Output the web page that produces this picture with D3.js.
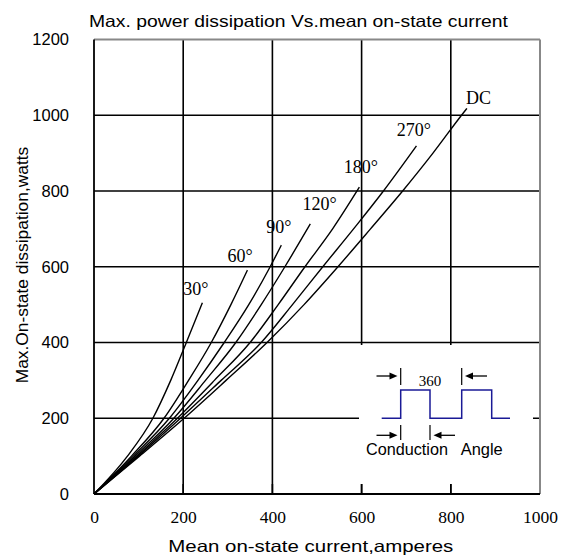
<!DOCTYPE html>
<html><head><meta charset="utf-8">
<script src="https://cdn.jsdelivr.net/npm/d3@7"></script>
<style>body{margin:0;background:#fff}svg{display:block}
.xt text{font-family:'Liberation Serif','Times New Roman',serif !important;font-size:17.5px}
</style>
</head><body>
<svg id="c" width="563" height="558"></svg>
<script>
// ---- data ----
const xTicks = [0, 200, 400, 600, 800, 1000];
const yTicks = [0, 200, 400, 600, 800, 1000, 1200];
const seriesNames = ["30°", "60°", "90°", "120°", "180°", "270°", "DC"];
// [mean current (A), power (W)]
const s30  = [[0,0],[75,100],[132,200],[172,300],[207,400],[243,505]];
const s60  = [[0,0],[84,100],[157,200],[212,300],[263,400],[307,500],[344,591]];
const s90  = [[0,0],[88,100],[169,200],[233,300],[292,400],[347,500],[395,600],[420,657]];
const s120 = [[0,0],[92,100],[179,200],[250,300],[318,400],[375,500],[428,600],[485,713]];
const s180 = [[0,0],[96,100],[187,200],[270,300],[350,400],[413,500],[473,600],[535,700],[595,810]];
const s270 = [[0,0],[99,100],[194,200],[285,300],[375,400],[445,500],[513,600],[582,700],[649,800],[723,919]];
const sDC  = [[0,0],[102,100],[202,200],[296,300],[388,400],[471,500],[547,600],[620,700],[692,800],[760,900],[824,1000],[836,1018]];
const allSeries = [s30, s60, s90, s120, s180, s270, sDC];
const titleText = "Max. power dissipation Vs.mean on-state current";
const xLabel = "Mean on-state current,amperes";
const yLabel = "Max.On-state dissipation,watts";

// ---- layout ----
const svg = d3.select("#c");
const L = 94, R = 540, T = 39.5, B = 494;
const x = d3.scaleLinear().domain([0, 1000]).range([L, R]);
const y = d3.scaleLinear().domain([0, 1200]).range([B, T]);
const sans = "'Liberation Sans', Arial, sans-serif";
const serif = "'Liberation Serif', 'Times New Roman', serif";
// label offsets from curve end (px)
const labelOff = [[-6.5,-7.7],[-7.3,-8.6],[-2.5,-12],[9.4,-14],[1.5,-14],[-2.5,-9.7],[11.6,-4.3]];

// grid
const g = svg.append("g");
g.selectAll("line.v").data(xTicks.filter(d => d > 0 && d < 1000)).enter().append("line")
  .attr("x1", d => x(d)).attr("x2", d => x(d)).attr("y1", T).attr("y2", B)
  .attr("stroke", "#000").attr("stroke-width", 1.6);
g.selectAll("line.h").data(yTicks.filter(d => d > 0 && d < 1200)).enter().append("line")
  .attr("x1", L).attr("x2", R).attr("y1", d => y(d)).attr("y2", d => y(d))
  .attr("stroke", "#000").attr("stroke-width", 1.6);

// curves
const line = d3.line().x(d => x(d[0])).y(d => y(d[1])).curve(d3.curveMonotoneX);
svg.append("g").selectAll("path").data(allSeries).enter().append("path")
  .attr("d", line).attr("fill", "none").attr("stroke", "#000").attr("stroke-width", 1.4);

// curve labels
svg.append("g").selectAll("text").data(allSeries).enter().append("text")
  .attr("x", (d, i) => x(d[d.length-1][0]) + labelOff[i][0])
  .attr("y", (d, i) => y(d[d.length-1][1]) + labelOff[i][1])
  .attr("text-anchor", "middle").style("font-family", serif).style("font-size", "18px")
  .text((d, i) => seriesNames[i]);

// inset (white box hides grid)
const ins = svg.append("g");
ins.append("rect").attr("x", 359).attr("y", 345).attr("width", 174).attr("height", 139).attr("fill", "#fff");
const wave = [[381.7,418.3],[400.7,418.3],[400.7,390],[430,390],[430,418.3],[461.7,418.3],[461.7,390],[491.7,390],[491.7,418.3],[510,418.3]];
ins.append("path").attr("d", d3.line()(wave)).attr("fill","none").attr("stroke","#1a1a96").attr("stroke-width",1.5);
[[400.7,368,385],[461.7,368,385],[400.7,425,440],[430,425,440]].forEach(v=>{
  ins.append("line").attr("x1",v[0]).attr("x2",v[0]).attr("y1",v[1]).attr("y2",v[2]).attr("stroke","#000").attr("stroke-width",1.2);
});
function arrow(x0, x1, yy){
  const dir = Math.sign(x1 - x0);
  ins.append("line").attr("x1",x0).attr("x2",x1 - dir*6).attr("y1",yy).attr("y2",yy).attr("stroke","#000").attr("stroke-width",1.3);
  ins.append("path").attr("d",`M${x1},${yy} L${x1-dir*8},${yy-3.5} L${x1-dir*8},${yy+3.5} Z`).attr("fill","#000");
}
arrow(376.5, 397.5, 376);
arrow(487, 465, 376);
arrow(376.5, 397.5, 435.3);
arrow(455, 433.5, 435.3);
ins.append("text").attr("x",430).attr("y",386).attr("text-anchor","middle").style("font-family",serif).style("font-size","15px").text("360");
ins.append("text").attr("x",366).attr("y",455).style("font-family",sans).style("font-size","16px").attr("textLength",82).attr("lengthAdjust","spacingAndGlyphs").text("Conduction");
ins.append("text").attr("x",460.7).attr("y",455).style("font-family",sans).style("font-size","16px").attr("textLength",42).attr("lengthAdjust","spacingAndGlyphs").text("Angle");

// bottom ticks (visible below the inset)
svg.append("g").selectAll("line").data(xTicks.filter(d => d > 0 && d < 1000)).enter().append("line")
  .attr("x1", d => x(d)).attr("x2", d => x(d)).attr("y1", B - 10).attr("y2", B)
  .attr("stroke", "#000").attr("stroke-width", 1.6);

// frame
svg.append("line").attr("x1",L).attr("x2",R).attr("y1",T).attr("y2",T).attr("stroke","#888").attr("stroke-width",2);
svg.append("line").attr("x1",R).attr("x2",R).attr("y1",T).attr("y2",B).attr("stroke","#888").attr("stroke-width",2);
svg.append("line").attr("x1",L).attr("x2",L).attr("y1",T).attr("y2",B).attr("stroke","#000").attr("stroke-width",1.8);
svg.append("line").attr("x1",L).attr("x2",R).attr("y1",B).attr("y2",B).attr("stroke","#000").attr("stroke-width",1.8);

// axes labels via d3 axes
const xAxis = svg.append("g").attr("class","xt").attr("transform", `translate(0,${B})`)
  .call(d3.axisBottom(x).tickValues(xTicks).tickSize(0).tickPadding(17).tickFormat(d3.format("d")));
xAxis.attr("font-family", serif).attr("font-size", 17.5);
xAxis.select(".domain").remove();
xAxis.selectAll("text").attr("fill","#000");
const yAxis = svg.append("g").attr("transform", `translate(${L},0)`)
  .call(d3.axisLeft(y).tickValues(yTicks).tickSize(0).tickPadding(25).tickFormat(d3.format("d")));
yAxis.attr("font-family", sans).attr("font-size", 16.5);
yAxis.select(".domain").remove();
yAxis.selectAll("text").attr("fill","#000");

// titles
svg.append("text").attr("x", 89).attr("y", 27).style("font-family", sans).style("font-size", "16.5px")
  .attr("textLength", 419).attr("lengthAdjust","spacingAndGlyphs").text(titleText);
svg.append("text").attr("x", 168.3).attr("y", 551.5).style("font-family", sans).style("font-size", "16.5px")
  .attr("textLength", 285).attr("lengthAdjust","spacingAndGlyphs").text(xLabel);
svg.append("text").attr("transform","translate(28,383.3) rotate(-90)").style("font-family", sans).style("font-size", "16.5px")
  .attr("textLength", 236.6).attr("lengthAdjust","spacingAndGlyphs").text(yLabel);
</script>
</body></html>
